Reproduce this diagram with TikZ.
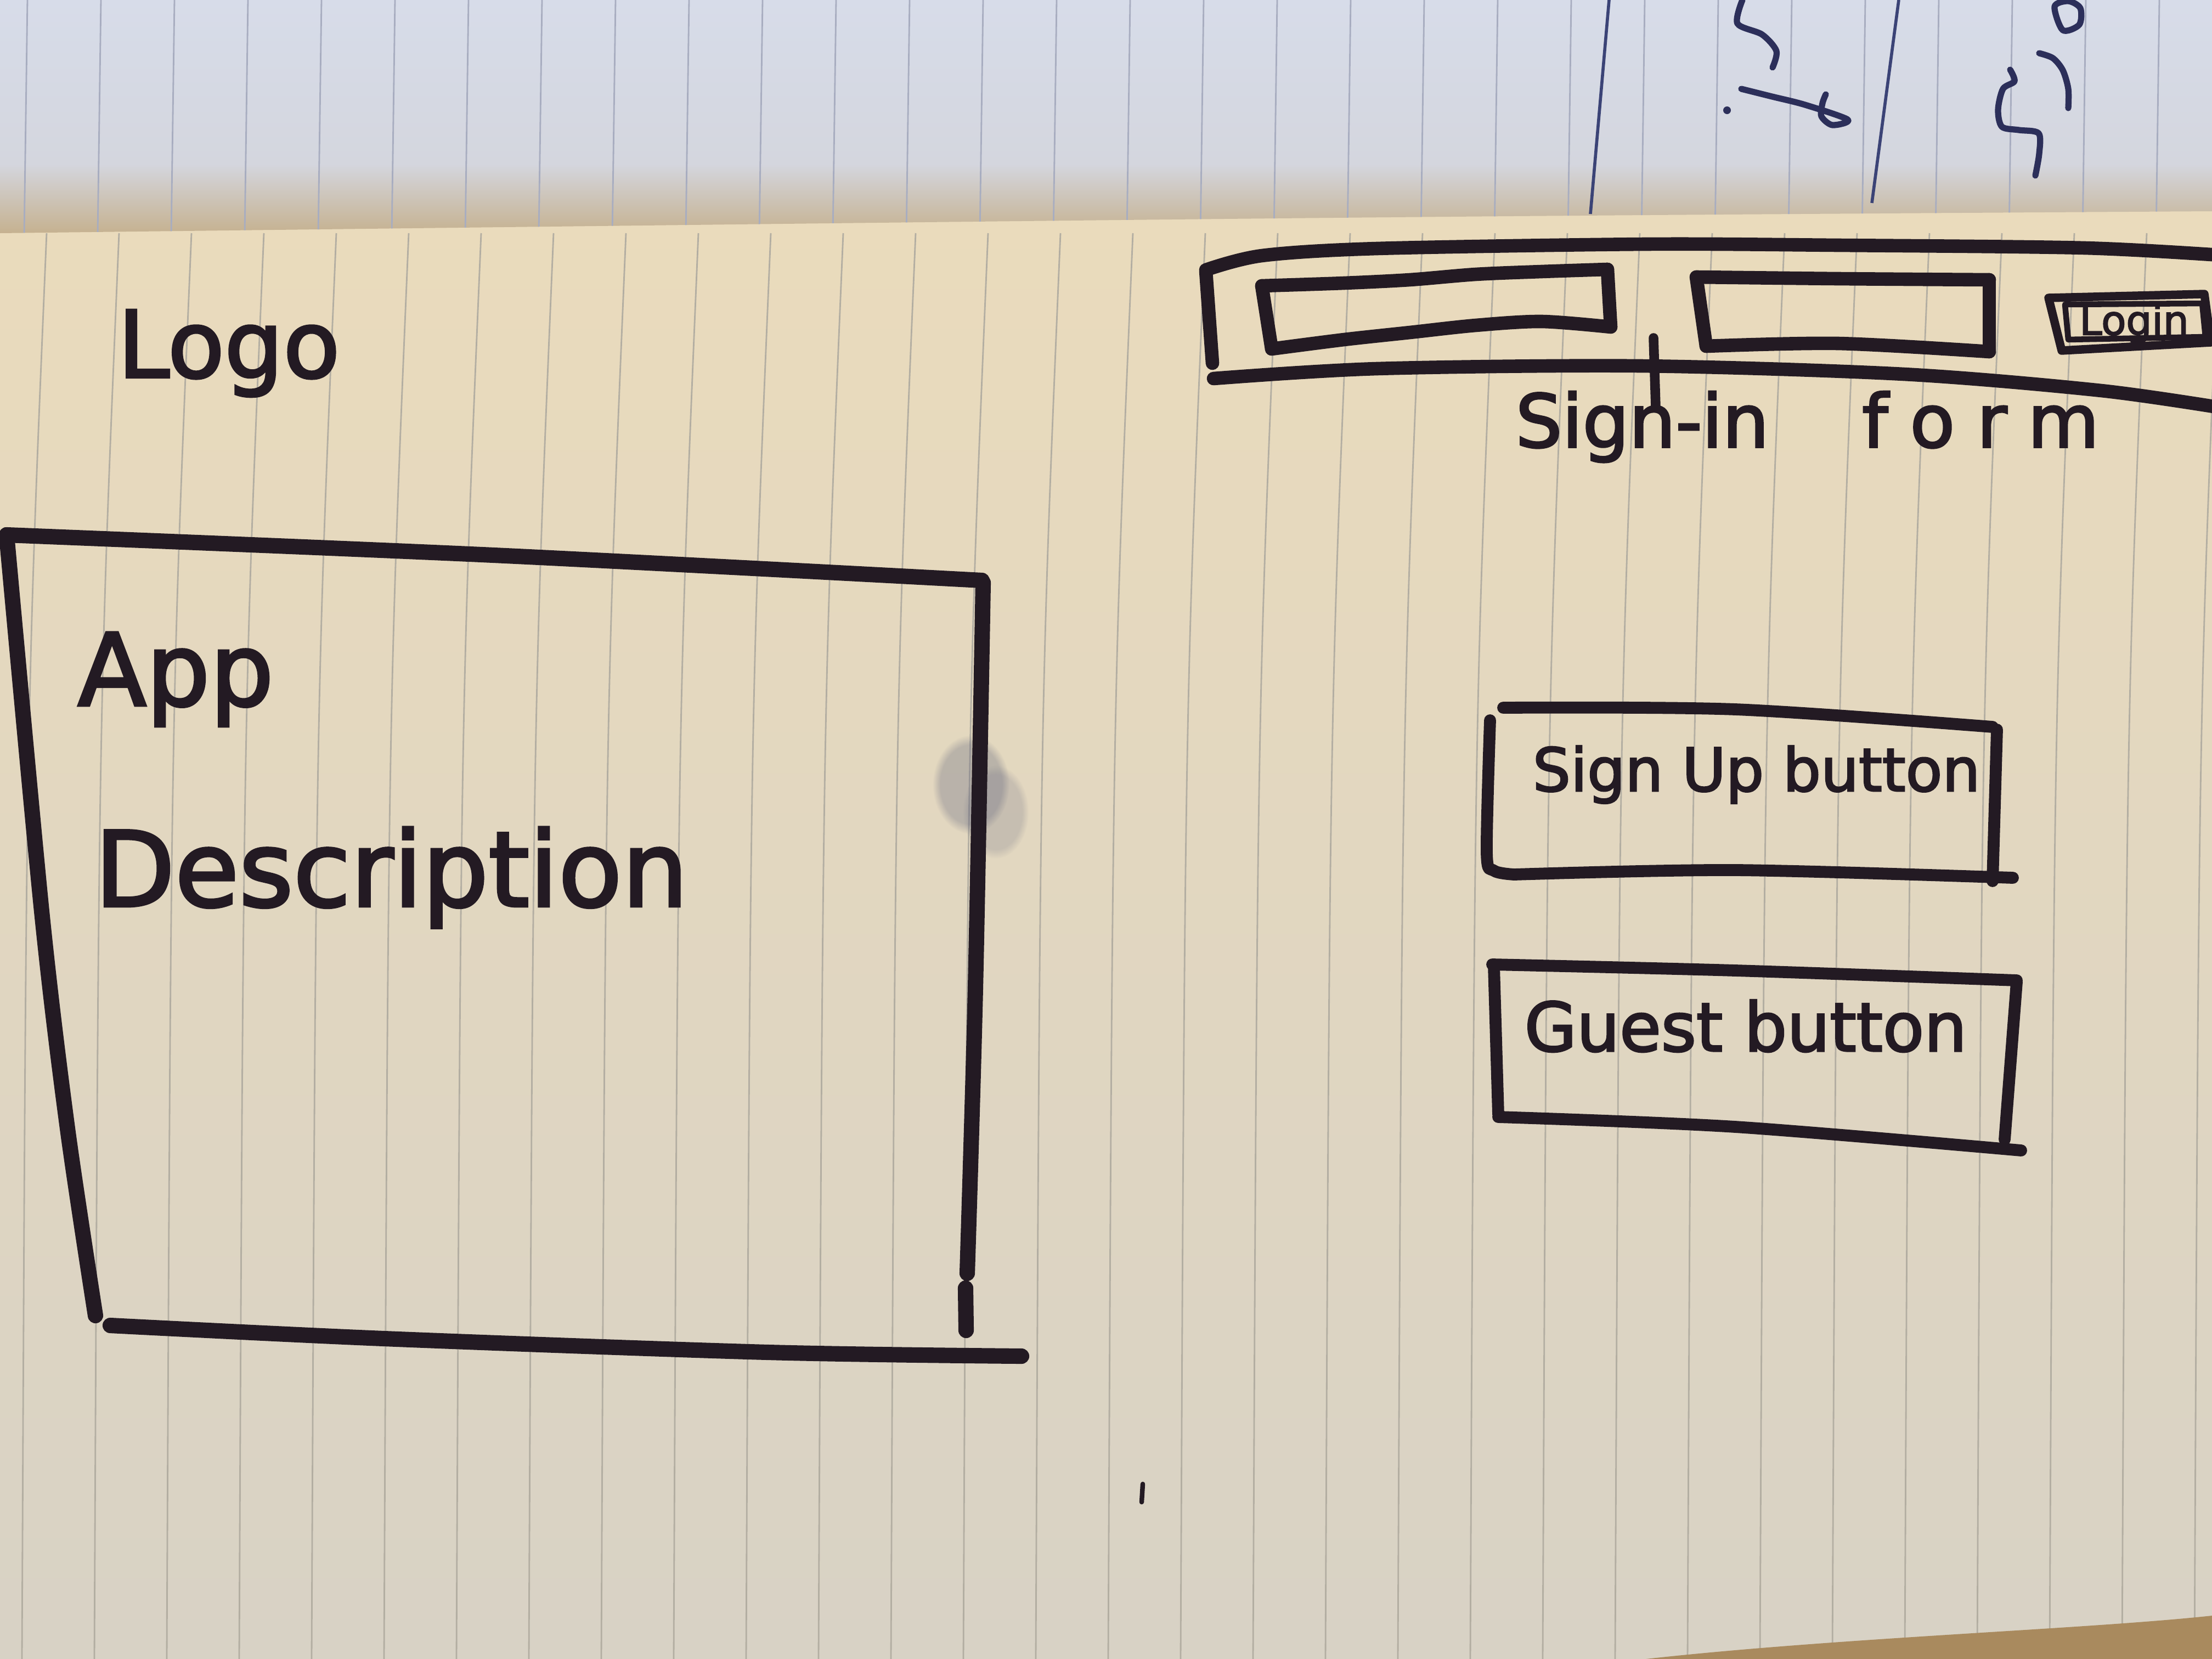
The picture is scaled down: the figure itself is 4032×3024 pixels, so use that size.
\documentclass[tikz,border=0pt]{standalone}
\usepackage{fontspec}
\usetikzlibrary{fadings}
\setmainfont{DejaVu Sans}
\newfontfamily\hand[FakeBold=2.6]{DejaVu Sans}
\definecolor{ink}{HTML}{231A23}
\definecolor{pen}{HTML}{2C2F5A}
\definecolor{smudge}{HTML}{5A5E78}
\definecolor{bluepage}{HTML}{D7DCE9}
\definecolor{bluelow}{HTML}{D4D6DE}
\definecolor{shadowtan}{HTML}{C5B08D}
\definecolor{creamtop}{HTML}{EADBBC}
\definecolor{creammid}{HTML}{E7E2D4}
\definecolor{creambot}{HTML}{D8D2C5}
\definecolor{ruleline}{HTML}{B3AEA2}
\definecolor{ruleblue}{HTML}{A8ADC0}
\definecolor{marginblue}{HTML}{3B4376}
\definecolor{tabletop}{HTML}{A98A5E}
\tikzset{
  marker/.style={draw=ink, line width=8pt, line cap=round, line join=round},
  markermid/.style={draw=ink, line width=7pt, line cap=round, line join=round},
  markerthin/.style={draw=ink, line width=6.2pt, line cap=round, line join=round},
  markerfine/.style={draw=ink, line width=4.4pt, line cap=round, line join=round},
  handtext/.style={text=ink, inner sep=0pt, font=\hand},
  rule/.style={draw=ruleline, line width=0.8pt},
  ruletop/.style={draw=ruleblue, line width=0.8pt},
  penline/.style={draw=pen, line width=3.2pt, line cap=round, line join=round}
}
\begin{document}
\begin{tikzpicture}[x=0.01cm,y=-0.01cm]
\useasboundingbox (0,0) rectangle (4032,3024);

% ---- lower notebook page ----
\shade[top color=creamtop, middle color=creammid, bottom color=creambot]
  (0,380) rectangle (4032,3024);
\foreach \k in {0,...,30}{
  \pgfmathsetmacro\xx{40+132*\k}
  \draw[rule] (\xx+45,425) .. controls (\xx+8,1300) .. (\xx,3024);
}
% table showing at the lower right corner
\fill[tabletop] (3000,3024) .. controls (3350,2985) and (3800,2970) .. (4032,2945)
  -- (4032,3024) -- cycle;
% stray pen mark
\draw[markerfine, line width=2.4pt] (2083,2705) -- (2081,2738);

% ---- upper page of the notebook ----
\begin{scope}
  \clip (0,0) -- (4032,0) -- (4032,385) .. controls (2500,395) .. (0,425) -- cycle;
  \shade[top color=bluepage, bottom color=bluelow] (0,0) rectangle (4032,300);
  \shade[top color=bluelow, bottom color=shadowtan] (0,299) rectangle (4032,430);
  \foreach \k in {0,...,30}{
    \pgfmathsetmacro\xx{50+134*\k}
    \draw[ruletop] (\xx,0) -- (\xx-6,430);
  }
  \draw[draw=marginblue, line width=1.6pt] (2933,0) -- (2899,390);
  \draw[draw=marginblue, line width=1.6pt] (3461,0) -- (3412,370);
  % sideways handwriting on that page
  \draw[penline] plot[smooth] coordinates {(3176,0) (3167,43) (3212,63) (3238,93) (3231,123)};
  \draw[penline] plot[smooth] coordinates {(3174,162) (3230,176) (3290,191) (3368,218) (3340,228) (3320,212) (3322,188) (3328,172)};
  \fill[pen] (3148,201) circle (7);
  \draw[penline] plot[smooth cycle] coordinates {(3745,12) (3760,55) (3790,45) (3792,15) (3770,2)};
  \draw[penline] plot[smooth] coordinates {(3717,97) (3742,106) (3760,128) (3770,162) (3770,197)};
  \draw[penline] plot[smooth] coordinates {(3710,320) (3717,280) (3716,243) (3680,237) (3649,231) (3642,200) (3651,162) (3672,148) (3664,127)};
\end{scope}

% ---- wireframe: logo ----
\node[handtext, anchor=base west] (logo) at (214,688) {\fontsize{48pt}{50pt}\selectfont Logo};

% ---- wireframe: app description panel ----
% faint ink smudge beside the right edge
\fill[smudge, opacity=0.30, path fading=circle with fuzzy edge 20 percent]
  (1770,1430) ellipse [x radius=70, y radius=90];
\fill[smudge, opacity=0.20, path fading=circle with fuzzy edge 20 percent]
  (1815,1480) ellipse [x radius=60, y radius=85];
\draw[marker] plot[smooth] coordinates {(12,975) (900,1012) (1790,1058)};
\draw[marker] plot[smooth] coordinates {(1792,1062) (1778,1800) (1763,2321)};
\draw[marker] (1760,2348) -- (1761,2425);
\draw[marker] plot[smooth] coordinates {(12,975) (77,1671) (123,2057) (174,2398)};
\draw[marker] plot[smooth] coordinates {(201,2416) (700,2440) (1400,2465) (1862,2472)};
\node[handtext, anchor=base west] (app) at (141,1286) {\fontsize{52pt}{54pt}\selectfont App};
\node[handtext, anchor=base west] (desc) at (172,1652) {\fontsize{54pt}{56pt}\selectfont Description};

% ---- wireframe: sign-in bar ----
\draw[markermid] plot[smooth] coordinates {(2198,492) (2300,466) (2510,453) (3000,445) (3350,447) (3800,452) (4060,466)};
\draw[markermid] (2198,494) -- (2210,662);
\draw[markermid] plot[smooth] coordinates {(2212,690) (2510,672) (2990,667) (3470,682) (3830,712) (4060,745)};
% first input field
\draw[markermid] plot[smooth] coordinates {(2300,521) (2450,516) (2570,510) (2690,500) (2810,495) (2930,491)};
\draw[markermid] (2930,491) -- (2936,596);
\draw[markermid] plot[smooth] coordinates {(2936,596) (2810,586) (2690,593) (2570,606) (2450,619) (2318,636)};
\draw[markermid] (2318,636) -- (2300,521);
% second input field
\draw[markermid] plot[smooth] coordinates {(3092,505) (3350,508) (3626,510)};
\draw[markermid] (3626,510) -- (3626,641);
\draw[markermid] plot[smooth] coordinates {(3626,641) (3350,626) (3110,631)};
\draw[markermid] (3110,631) -- (3092,505);
% login button, drawn twice over
\draw[markerfine] (3734,543) -- (4018,536) -- (4030,624) -- (3758,639) -- cycle;
\draw[markerfine, line width=3pt] (3764,555) -- (4014,553) -- (4020,614) -- (3770,619) -- cycle;
\node[handtext] (login) at (3890,590) {\fontsize{21pt}{22pt}\selectfont Login};
% label tick and caption
\coordinate (tickA) at (3014,616);
\coordinate (tickB) at (3018,742);
\draw[markerfine, line width=5pt] (tickA) -- (tickB);
\node[handtext, anchor=base west] (signin) at (2762,815)
  {\fontsize{38pt}{40pt}\selectfont Sign-in\hspace{1.7cm}{\addfontfeature{LetterSpace=30}form}};

% ---- wireframe: sign up button ----
\draw[markerthin] plot[smooth] coordinates {(2740,1290) (3163,1293) (3632,1325)};
\draw[markerthin] (3640,1330) -- (3632,1606);
\draw[markerthin] plot[smooth] coordinates {(2716,1313) (2710,1555) (2723,1587) (2760,1594)};
\draw[markerthin] plot[smooth] coordinates {(2760,1594) (3163,1586) (3669,1600)};
\node[handtext, anchor=base west] (signup) at (2793,1442) {\fontsize{31pt}{33pt}\selectfont Sign Up button};

% ---- wireframe: guest button ----
\draw[markerthin] plot[smooth] coordinates {(2720,1758) (3163,1769) (3676,1787)};
\draw[markerthin] (3676,1790) -- (3654,2077);
\draw[markerthin] (2723,1761) -- (2731,2031);
\draw[markerthin] plot[smooth] coordinates {(2731,2036) (3163,2054) (3684,2097)};
\node[handtext, anchor=base west] (guest) at (2778,1916) {\fontsize{35pt}{37pt}\selectfont Guest button};

\end{tikzpicture}
\end{document}
